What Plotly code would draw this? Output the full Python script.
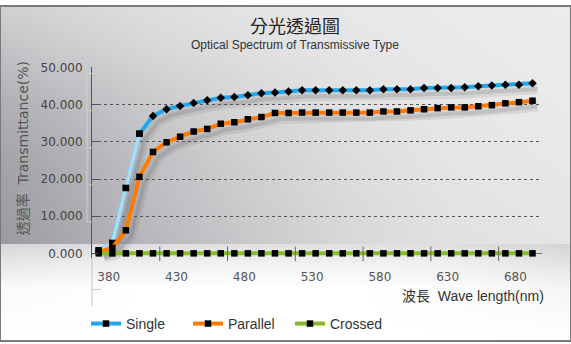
import plotly.graph_objects as go

# ---------------- data ----------------
wavelength = [380, 390, 400, 410, 420, 430, 440, 450, 460, 470, 480, 490, 500,
              510, 520, 530, 540, 550, 560, 570, 580, 590, 600, 610, 620, 630,
              640, 650, 660, 670, 680, 690, 700]
single = [0.8, 2.8, 17.6, 32.2, 37.0, 38.8, 39.7, 40.5, 41.2, 41.9, 42.1, 42.6, 43.1,
          43.3, 43.6, 43.9, 43.9, 43.9, 43.9, 43.9, 43.9, 44.2, 44.2, 44.2, 44.5, 44.5,
          44.5, 44.7, 45.0, 45.2, 45.4, 45.4, 45.8]
parallel = [0.4, 1.5, 6.2, 20.6, 27.3, 29.9, 31.4, 32.8, 33.5, 34.9, 35.3, 36.1, 36.7,
            37.8, 37.8, 37.9, 37.9, 37.9, 37.9, 37.9, 37.9, 38.2, 38.2, 38.5, 38.8, 39.1,
            39.3, 39.3, 39.6, 39.9, 40.4, 40.7, 41.1]
crossed = [0, 0, 0, 0, 0, 0, 0, 0, 0, 0, 0, 0, 0,
           0, 0, 0, 0, 0, 0, 0, 0, 0, 0, 0, 0, 0,
           0, 0, 0, 0, 0, 0, 0]
x_tick_labels = [380, 430, 480, 530, 580, 630, 680]
x_tick_marks = [425, 475, 525, 575, 625, 675]
y_ticks = [0, 10, 20, 30, 40, 50]

# background shading (grey levels), decorative
bg_x = [0, 60, 150, 250, 350, 450, 571]
bg_y = [0, 40, 100, 160, 220, 243.5, 244.5, 265, 290, 344]
bg_levels = [
    [208, 214, 222, 228, 232, 234, 236],
    [196, 205, 216, 224, 230, 233, 235],
    [175, 186, 202, 215, 225, 231, 234],
    [162, 174, 192, 208, 221, 229, 232],
    [156, 168, 186, 203, 217, 226, 230],
    [154, 166, 184, 201, 216, 225, 229],
    [214, 218, 222, 224, 224, 222, 212],
    [232, 236, 240, 242, 242, 240, 228],
    [250, 252, 255, 255, 255, 252, 245],
    [255, 255, 255, 255, 255, 255, 255],
]

# ---------------- geometry ----------------
W, H = 571, 344
X_RANGE = [375, 707]
Y_RANGE = [-1.2, 50.2]
PLOT_LEFT, PLOT_RIGHT = 92, 542
Y0_PX, PPU = 254, 3.814
plot_bottom = Y0_PX - Y_RANGE[0] * PPU
plot_top = Y0_PX - Y_RANGE[1] * PPU


def px(p):
    return p / W


def py(p):
    return 1 - p / H


SH_DX, SH_DY = 5, 6

BLUE = "#1fa9ec"
LIGHT_BLUE = "#a9dcf2"
ORANGE = "#ff7b00"
GREEN = "#88bb2a"

fig = go.Figure()

# background
fig.add_trace(go.Heatmap(
    x=bg_x, y=bg_y, z=bg_levels, zmin=150, zmax=255, zsmooth="best",
    colorscale=[[0, "rgb(150,150,156)"], [1, "rgb(255,255,255)"]],
    showscale=False, hoverinfo="skip", xaxis="x", yaxis="y"))

# shadows
for ys in (single, parallel):
    fig.add_trace(go.Scatter(x=wavelength, y=ys, mode="lines", xaxis="x2", yaxis="y2",
                             line=dict(color="rgba(70,70,70,0.11)", width=10),
                             showlegend=False, hoverinfo="skip"))
    fig.add_trace(go.Scatter(x=wavelength, y=ys, mode="lines", xaxis="x2", yaxis="y2",
                             line=dict(color="rgba(70,70,70,0.15)", width=4),
                             showlegend=False, hoverinfo="skip"))

single_symbols = ["square" if w < 420 else "diamond" for w in wavelength]

fig.add_trace(go.Scatter(
    x=wavelength, y=single, name="Single", mode="lines+markers", xaxis="x3", yaxis="y3",
    line=dict(color=BLUE, width=4),
    marker=dict(color="black", size=6.5, symbol=single_symbols), cliponaxis=False))
fig.add_trace(go.Scatter(
    x=wavelength[:4], y=single[:4], mode="lines", xaxis="x3", yaxis="y3",
    line=dict(color=LIGHT_BLUE, width=4), showlegend=False, hoverinfo="skip"))
fig.add_trace(go.Scatter(
    x=wavelength[:4], y=single[:4], mode="markers", xaxis="x3", yaxis="y3",
    marker=dict(color="black", size=6.5, symbol="square"), showlegend=False,
    hoverinfo="skip", cliponaxis=False))
fig.add_trace(go.Scatter(
    x=wavelength, y=parallel, name="Parallel", mode="lines+markers", xaxis="x3", yaxis="y3",
    line=dict(color=ORANGE, width=4),
    marker=dict(color="black", size=6.5, symbol="square"), cliponaxis=False))
fig.add_trace(go.Scatter(
    x=wavelength, y=crossed, name="Crossed", mode="lines+markers", xaxis="x3", yaxis="y3",
    line=dict(color=GREEN, width=4),
    marker=dict(color="black", size=6.5, symbol="square"), cliponaxis=False))

shapes = []
# x tick marks crossing the zero line
for v in x_tick_marks:
    shapes.append(dict(type="line", xref="x3", yref="paper", x0=v, x1=v,
                       y0=py(Y0_PX + 8), y1=py(Y0_PX - 7),
                       line=dict(color="#666", width=1), layer="above"))
# y axis extension below the zero line
shapes.append(dict(type="line", xref="paper", yref="paper", x0=px(PLOT_LEFT), x1=px(PLOT_LEFT),
                   y0=py(plot_bottom), y1=py(308), line=dict(color="#c4c4c4", width=1), layer="above"))
shapes.append(dict(type="line", xref="paper", yref="paper", x0=px(PLOT_LEFT), x1=px(PLOT_LEFT + 9),
                   y0=py(291), y1=py(291), line=dict(color="#d0d0d0", width=1), layer="above"))
# faint offset axis "shadow"
shapes.append(dict(type="line", xref="paper", yref="paper", x0=px(87), x1=px(87),
                   y0=py(Y0_PX - 50 * PPU + 6), y1=py(Y0_PX - 10 * PPU + 6),
                   line=dict(color="rgba(215,215,215,0.8)", width=1), layer="above"))
for t in y_ticks[1:]:
    yy = Y0_PX - t * PPU + 6
    shapes.append(dict(type="line", xref="paper", yref="paper", x0=px(87), x1=px(PLOT_LEFT),
                       y0=py(yy), y1=py(yy), line=dict(color="rgba(215,215,215,0.8)", width=1),
                       layer="above"))
# frame
shapes.append(dict(type="rect", xref="paper", yref="paper", x0=0, x1=1, y0=0, y1=1,
                   line=dict(color="#7a7a7a", width=2), layer="above"))

annotations = [
    dict(text="分光透過圖", x=px(295), y=py(20), xref="paper", yref="paper",
         showarrow=False, xanchor="center", yanchor="middle",
         font=dict(family="Noto Sans CJK TC", size=18, color="#222")),
    dict(text="Optical Spectrum of Transmissive Type", x=px(295), y=py(40),
         xref="paper", yref="paper", showarrow=False, xanchor="center", yanchor="middle",
         font=dict(family="Liberation Sans, Arial", size=12, color="#333")),
    dict(text="透過率  Transmittance(%)",
         x=px(22.7), y=py(146.5), xref="paper", yref="paper", showarrow=False,
         textangle=-90, xanchor="center", yanchor="middle",
         font=dict(family="DejaVu Sans, Noto Sans CJK TC", size=14, color="#555")),
    dict(text="波長  Wave length(nm)", x=px(546), y=py(298), xref="paper", yref="paper",
         showarrow=False, xanchor="right", yanchor="middle",
         font=dict(family="Liberation Sans, Noto Sans CJK TC", size=14, color="#333")),
]

hidden = dict(visible=False, fixedrange=True)
fig.update_layout(
    width=W, height=H, margin=dict(l=0, r=0, t=0, b=0),
    paper_bgcolor="white", plot_bgcolor="rgba(0,0,0,0)",
    hovermode=False,
    xaxis=dict(domain=[0, 1], range=[0, W], anchor="y", **hidden),
    yaxis=dict(domain=[0, 1], range=[H, 0], anchor="x", **hidden),
    xaxis2=dict(domain=[px(PLOT_LEFT + SH_DX), px(PLOT_RIGHT + SH_DX)], range=X_RANGE,
                anchor="y2", **hidden),
    yaxis2=dict(domain=[py(plot_bottom + SH_DY), py(plot_top + SH_DY)], range=Y_RANGE,
                anchor="x2", **hidden),
    xaxis3=dict(domain=[px(PLOT_LEFT), px(PLOT_RIGHT)], range=X_RANGE, anchor="y3",
                showgrid=False, showline=False, zeroline=False, ticks="",
                tickmode="array", tickvals=x_tick_labels,
                ticktext=[str(v) for v in x_tick_labels],
                ticklabelshift=10, ticklabelstandoff=10,
                tickfont=dict(family="DejaVu Sans", size=12, color="#555"), fixedrange=True),
    yaxis3=dict(domain=[py(plot_bottom), py(plot_top)], range=Y_RANGE, anchor="x3",
                tickmode="array", tickvals=y_ticks,
                ticktext=[f"{v:.3f}" for v in y_ticks],
                showgrid=True, gridcolor="#555", griddash="dot", gridwidth=1,
                zeroline=True, zerolinecolor="#777", zerolinewidth=1,
                showline=True, linecolor="#555", linewidth=1,
                ticks="inside", ticklen=6, tickcolor="#555", ticklabelstandoff=6,
                tickfont=dict(family="DejaVu Sans", size=12, color="#444"), fixedrange=True),
    legend=dict(orientation="h", x=px(86), y=py(326.5), xanchor="left", yanchor="middle",
                bgcolor="rgba(0,0,0,0)", font=dict(family="Liberation Sans, Arial", size=14,
                                                   color="#333"),
                entrywidth=57, traceorder="normal"),
    shapes=shapes, annotations=annotations,
)

fig.write_html("out.html")
